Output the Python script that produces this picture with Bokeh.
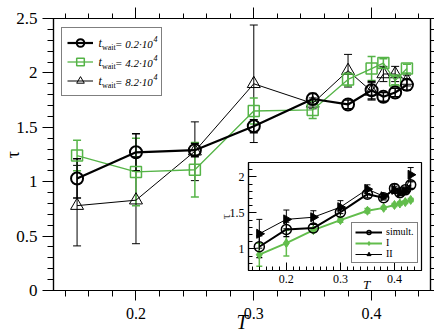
import numpy as np
from bokeh.plotting import figure
from bokeh.models import (ColumnDataSource, Whisker, TeeHead, Legend, LegendItem,
                          FixedTicker, LinearAxis, Range1d, CustomJSTickFormatter)
from bokeh.embed import file_html
from bokeh.resources import INLINE
from bokeh.core.properties import value

# ---------------- data ----------------
T = [0.15, 0.20, 0.25, 0.30, 0.35, 0.38, 0.40, 0.41, 0.42, 0.43]

TAU_02 = [1.03, 1.27, 1.29, 1.51, 1.76, 1.71, 1.84, 1.78, 1.82, 1.89]
ERR_02 = [0.18, 0.17, 0.06, 0.06, 0.05, 0.04, 0.08, 0.04, 0.04, 0.05]
TAU_42 = [1.24, 1.09, 1.11, 1.65, 1.66, 1.94, 2.04, 2.09, 1.93, 2.04]
ERR_42 = [0.14, 0.31, 0.25, 0.12, 0.08, 0.06, 0.11, 0.04, 0.04, 0.04]
TAU_82 = [0.78, 0.83, 1.28, 1.90, 1.72, 2.02, 1.83, 1.99, 1.99, 1.93]
ERR_82 = [0.37, 0.40, 0.27, 0.54, 0.05, 0.15, 0.08, 0.07, 0.07, 0.05]

TW_LABELS = ["0.2", "4.2", "8.2"]

# inset
SIM = TAU_02
SIM_ERR = [0.15, 0.10, 0.05, 0.06, 0.05, 0.03, 0.06, 0.04, 0.04, 0.05]
MODEL_I = [0.92, 1.08, 1.26, 1.40, 1.53, 1.57, 1.61, 1.63, 1.65, 1.68]
ERR_I = [0.16, 0.18, 0.03, 0.03, 0.03, 0.02, 0.02, 0.02, 0.02, 0.02]
MODEL_II = [1.21, 1.41, 1.44, 1.58, 1.83, 1.73, 1.82, 1.78, 1.80, 2.03]
ERR_II = [0.20, 0.13, 0.09, 0.09, 0.06, 0.03, 0.05, 0.04, 0.04, 0.10]
INSET_LEGEND = ["simult.", "I", "II"]

X_TICKS = [0.2, 0.3, 0.4]
X_TICK_LABELS = ["0.2", "0.3", "0.4"]
Y_TICKS = [0, 0.5, 1, 1.5, 2, 2.5]
Y_TICK_LABELS = ["0", "0.5", "1", "1.5", "2", "2.5"]
IY_TICKS = [1, 1.5, 2]
IY_TICK_LABELS = ["1", "1.5", "2"]

# ---------------- style ----------------
SERIF = "Liberation Serif"
GREEN = "#55b447"
GREEN2 = "#62bd4c"

X0, X1 = 0.13, 0.45
Y0, Y1 = 0.0, 2.5
FW, FH = 377, 272
FL, FT = 54, 18          # main frame position in the window

IY0, IY1 = 0.7, 2.2
IW, IH = 173, 108


def src(y, e):
    return ColumnDataSource(dict(x=T, y=y,
                                 lo=[a - b for a, b in zip(y, e)],
                                 hi=[a + b for a, b in zip(y, e)]))


def whisk(s, color, lw, cap):
    return Whisker(source=s, base="x", upper="hi", lower="lo", line_color=color, line_width=lw,
                   upper_head=TeeHead(size=cap, line_color=color, line_width=lw),
                   lower_head=TeeHead(size=cap, line_color=color, line_width=lw))


def main_xy(px, py):
    return (X0 + (px - FL) / FW * (X1 - X0), Y1 - (py - FT) / FH * (Y1 - Y0))


empty_fmt = CustomJSTickFormatter(code="return ''")
x_minor = list(np.round(np.arange(0.14, 0.45, 0.02), 4))
y_minor = list(np.round(np.arange(0.0, 2.51, 0.1), 4))

# ---------------- main figure ----------------
p = figure(frame_width=FW, frame_height=FH, x_range=Range1d(X0, X1), y_range=Range1d(Y0, Y1),
           output_backend="svg", toolbar_location=None,
           min_border_left=0, min_border_top=18, min_border_right=0, min_border_bottom=0,
           background_fill_color="white", border_fill_color="white")
p.grid.visible = False
p.outline_line_color = "black"
p.outline_line_width = 1.2

for ax in (p.xaxis[0], p.yaxis[0]):
    ax.axis_line_color = "black"
    ax.axis_line_width = 1.2
    ax.major_tick_line_color = "black"
    ax.minor_tick_line_color = "black"
    ax.major_tick_in = 0
    ax.minor_tick_in = 0
    ax.major_label_text_font = SERIF
    ax.major_label_text_color = "black"
    ax.axis_label_text_font = SERIF
    ax.axis_label_text_color = "black"

xa = p.xaxis[0]
xa.ticker = FixedTicker(ticks=X_TICKS, minor_ticks=x_minor)
xa.major_label_overrides = {t: l for t, l in zip(X_TICKS, X_TICK_LABELS)}
xa.major_label_text_font_size = "16px"
xa.major_tick_out = 10
xa.minor_tick_out = 6
xa.major_label_standoff = 7
xa.axis_label = "T"
xa.axis_label_text_font_style = "italic"
xa.axis_label_text_font_size = "20px"
xa.axis_label_standoff = -11

ya = p.yaxis[0]
ya.ticker = FixedTicker(ticks=Y_TICKS, minor_ticks=y_minor)
ya.major_label_overrides = {t: l for t, l in zip(Y_TICKS, Y_TICK_LABELS)}
ya.major_label_text_font_size = "17px"
ya.major_tick_out = 11
ya.minor_tick_out = 6
ya.major_label_standoff = 5
ya.axis_label = "τ"
ya.axis_label_text_font_style = "normal"
ya.axis_label_text_font_size = "18px"
ya.axis_label_standoff = -10

top = LinearAxis(ticker=FixedTicker(ticks=X_TICKS, minor_ticks=x_minor), formatter=empty_fmt,
                 major_tick_out=11, minor_tick_out=5, major_tick_in=0, minor_tick_in=0,
                 major_label_standoff=0, axis_line_color="black", axis_line_width=1.2)
right = LinearAxis(ticker=FixedTicker(ticks=Y_TICKS, minor_ticks=y_minor), formatter=empty_fmt,
                   major_tick_out=4, minor_tick_out=4, major_tick_in=0, minor_tick_in=0,
                   major_label_standoff=0, axis_line_color="black", axis_line_width=1.2)
p.add_layout(top, "above")
p.add_layout(right, "right")

s02, s42, s82 = src(TAU_02, ERR_02), src(TAU_42, ERR_42), src(TAU_82, ERR_82)
p.add_layout(whisk(s82, "black", 1, 8))
p.add_layout(whisk(s42, GREEN, 1.5, 8))
p.add_layout(whisk(s02, "black", 1.5, 8))

l82 = p.line("x", "y", source=s82, line_color="black", line_width=1)
m82 = p.scatter("x", "y", source=s82, marker="triangle", size=13, line_color="black",
                line_width=1, fill_color=None)
l42 = p.line("x", "y", source=s42, line_color=GREEN, line_width=1.3)
m42 = p.scatter("x", "y", source=s42, marker="square", size=11, line_color=GREEN,
                line_width=1.5, fill_color=None)
l02 = p.line("x", "y", source=s02, line_color="black", line_width=2.2)
m02 = p.scatter("x", "y", source=s02, marker="circle", size=12, line_color="black",
                line_width=2, fill_color=None)

leg = Legend(items=[LegendItem(label=" ", renderers=[l02, m02]),
                    LegendItem(label=" ", renderers=[l42, m42]),
                    LegendItem(label=" ", renderers=[l82, m82])],
             location=(8, 194), padding=5, spacing=0, glyph_height=19, glyph_width=26,
             label_standoff=3, label_width=60, label_height=19, margin=0,
             border_line_color="black", border_line_width=1.3, background_fill_alpha=0.0)
p.add_layout(leg)

# legend texts: t_wait = X·10^4 (pieces with sub/superscript)
rows = [43 + 19 * i for i in range(len(TW_LABELS))]
pieces = [
    (99.0, -0.5, lambda tw: "t", "12px", "italic"),
    (102.5, 4.0, lambda tw: "wait", "8px", "normal"),
    (115.5, 0.0, lambda tw: "= " + tw + "·10", "11px", "italic"),
    (154.0, -5.0, lambda tw: "4", "8px", "italic"),
]
for px, dy, fn, size, style in pieces:
    xs, ys, ts = [], [], []
    for ry, tw in zip(rows, TW_LABELS):
        x, y = main_xy(px, ry + dy)
        xs.append(x)
        ys.append(y)
        ts.append(fn(tw))
    p.text(x=xs, y=ys, text=ts, text_font=value(SERIF), text_font_size=value(size),
           text_font_style=style, text_align="left", text_baseline="middle", text_color="black")

# inset axis title "T" (sits in the inset's transparent border, drawn by the main figure)
tx, ty = main_xy(367, 283.5)
p.text(x=[tx], y=[ty], text=["T"], text_font=value(SERIF), text_font_size=value("13px"),
       text_font_style="italic", text_align="center", text_baseline="middle", text_color="black")

# ---------------- inset figure ----------------
q = figure(frame_width=IW, frame_height=IH, x_range=Range1d(X0, X1), y_range=Range1d(IY0, IY1),
           output_backend="svg", toolbar_location=None,
           min_border_left=40, min_border_top=6, min_border_right=6, min_border_bottom=0,
           background_fill_color="white", border_fill_alpha=0,
           styles={"position": "absolute", "left": "208px", "top": "156px"})
q.grid.visible = False
q.outline_line_color = "black"
q.outline_line_width = 1.2
for ax in (q.xaxis[0], q.yaxis[0]):
    ax.axis_line_color = "black"
    ax.axis_line_width = 1.2
    ax.major_tick_out = 0
    ax.minor_tick_out = 0
    ax.major_tick_in = 8
    ax.minor_tick_in = 4
    ax.major_label_text_font = SERIF
    ax.major_label_text_font_size = "12px"
    ax.major_label_text_color = "black"
    ax.major_label_standoff = 4
qx = q.xaxis[0]
qx.ticker = FixedTicker(ticks=X_TICKS, minor_ticks=list(np.round(np.arange(0.1375, 0.451, 0.0125), 5)))
qx.major_label_overrides = {t: l for t, l in zip(X_TICKS, X_TICK_LABELS)}
qy = q.yaxis[0]
qy.ticker = FixedTicker(ticks=IY_TICKS, minor_ticks=list(np.round(np.arange(0.7, 2.21, 0.1), 4)))
qy.major_label_overrides = {t: l for t, l in zip(IY_TICKS, IY_TICK_LABELS)}
qy.axis_label = "τ"
qy.axis_label_text_font = SERIF
qy.axis_label_text_font_style = "normal"
qy.axis_label_text_font_size = "13px"
qy.axis_label_standoff = -6

ss, si, sii = src(SIM, SIM_ERR), src(MODEL_I, ERR_I), src(MODEL_II, ERR_II)
q.add_layout(whisk(sii, "black", 1, 6))
q.add_layout(whisk(si, GREEN2, 1.5, 6))
q.add_layout(whisk(ss, "black", 1.2, 6))
lii = q.line("x", "y", source=sii, line_color="black", line_width=1)
mii = q.scatter("x", "y", source=sii, marker="triangle", angle=-1.5708, size=9,
                line_color="black", fill_color="black")
li = q.line("x", "y", source=si, line_color=GREEN2, line_width=2)
mi = q.scatter("x", "y", source=si, marker="diamond", size=9, line_color=GREEN2, fill_color=GREEN2)
ls = q.line("x", "y", source=ss, line_color="black", line_width=2)
ms = q.scatter("x", "y", source=ss, marker="circle", size=10, line_color="black",
               line_width=1.5, fill_color=None)

ileg = Legend(items=[LegendItem(label=INSET_LEGEND[0], renderers=[ls, ms]),
                     LegendItem(label=INSET_LEGEND[1], renderers=[li, mi]),
                     LegendItem(label=INSET_LEGEND[2], renderers=[lii, mii])],
              location=(103, 7), padding=3, spacing=0, glyph_height=10, glyph_width=27,
              label_standoff=4, label_width=27, label_height=10, margin=0,
              label_text_font=SERIF, label_text_font_size="10px", label_text_color="black",
              border_line_color="black", border_line_width=1.2, background_fill_alpha=1.0)
q.add_layout(ileg)

# ---------------- page ----------------
TEMPLATE = """{% from macros import embed %}
<!DOCTYPE html>
<html lang="en">
<head>
<meta charset="utf-8">
<title>{{ title }}</title>
<style>
html, body { overflow: hidden; background: #ffffff; }
body { margin: 8px; }
#wrap { position: relative; width: 419px; height: 316px; }
#box { position: absolute; left: -11px; top: 8px; }
</style>
{{ bokeh_css }}
{{ bokeh_js }}
</head>
<body>
<div id="wrap"><div id="box">
{{ embed(roots[0]) }}
{{ embed(roots[1]) }}
</div></div>
{{ plot_script }}
</body>
</html>
"""

open("out.html", "w").write(file_html([p, q], INLINE, title="chart", template=TEMPLATE))
